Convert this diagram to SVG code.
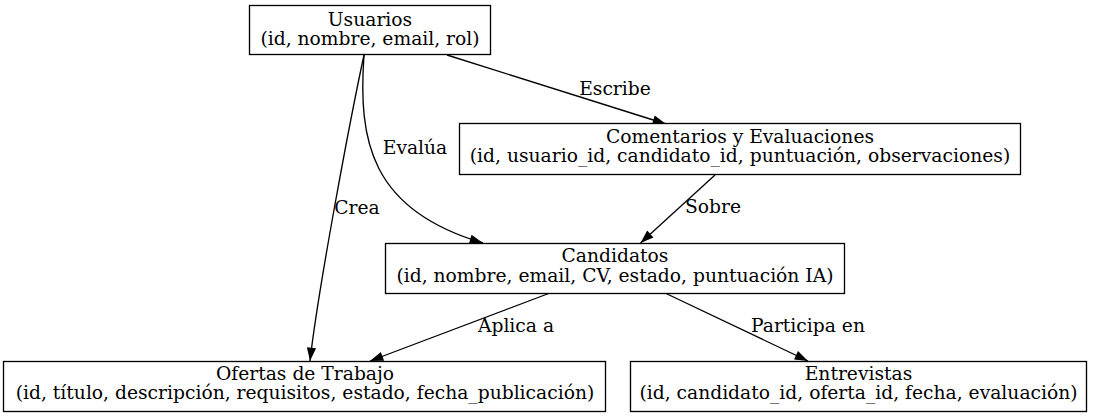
<svg xmlns="http://www.w3.org/2000/svg" width="1093" height="417" viewBox="0 0 1093 417">
<style>
.node rect{fill:#fff;stroke:#000;stroke-width:1.33}
text{font-family:"DejaVu Serif","Liberation Serif",serif;font-size:18.7px;fill:#000;text-anchor:middle}
.edge path{fill:none;stroke:#000;stroke-width:1.33}
</style>
<defs>
<marker id="ah" markerUnits="userSpaceOnUse" markerWidth="15" markerHeight="11" refX="13.3" refY="4.65" orient="auto" overflow="visible">
<path d="M0,0 L13.3,4.65 L0,9.3 z" fill="#000" stroke="none"/>
</marker>
</defs>
<rect width="1093" height="417" fill="#fff"/>
<g id="connectors" class="edge">
<path d="M447,55 L666,124" marker-end="url(#ah)"/>
<path d="M364,55 C358,140 370,210 483,243" marker-end="url(#ah)"/>
<path d="M364,55 C350,120 318,290 310,361" marker-end="url(#ah)"/>
<path d="M715,175 L640.5,243" marker-end="url(#ah)"/>
<path d="M550,293 L370,361" marker-end="url(#ah)"/>
<path d="M665,293 L808,361" marker-end="url(#ah)"/>
<text x="615" y="95">Escribe</text>
<text x="415" y="154">Evalúa</text>
<text x="357" y="214">Crea</text>
<text x="713" y="213">Sobre</text>
<text x="516" y="332">Aplica a</text>
<text x="808" y="332">Participa en</text>
</g>
<g id="usuarios" class="node">
<rect x="249.5" y="5.5" width="241" height="49"/>
<text x="370" y="26">Usuarios</text>
<text x="370" y="45">(id, nombre, email, rol)</text>
</g>
<g id="comentarios" class="node">
<rect x="459.5" y="123.5" width="561" height="51"/>
<text x="740" y="143">Comentarios y Evaluaciones</text>
<text x="740" y="162">(id, usuario_id, candidato_id, puntuación, observaciones)</text>
</g>
<g id="candidatos" class="node">
<rect x="385.5" y="243.5" width="459" height="50"/>
<text x="615" y="262">Candidatos</text>
<text x="615" y="281.5">(id, nombre, email, CV, estado, puntuación IA)</text>
</g>
<g id="ofertas" class="node">
<rect x="3.5" y="361.5" width="602" height="50"/>
<text x="305" y="380">Ofertas de Trabajo</text>
<text x="305" y="399">(id, título, descripción, requisitos, estado, fecha_publicación)</text>
</g>
<g id="entrevistas" class="node">
<rect x="630.5" y="361.5" width="456" height="50"/>
<text x="858.5" y="380">Entrevistas</text>
<text x="858.5" y="399">(id, candidato_id, oferta_id, fecha, evaluación)</text>
</g>
</svg>
